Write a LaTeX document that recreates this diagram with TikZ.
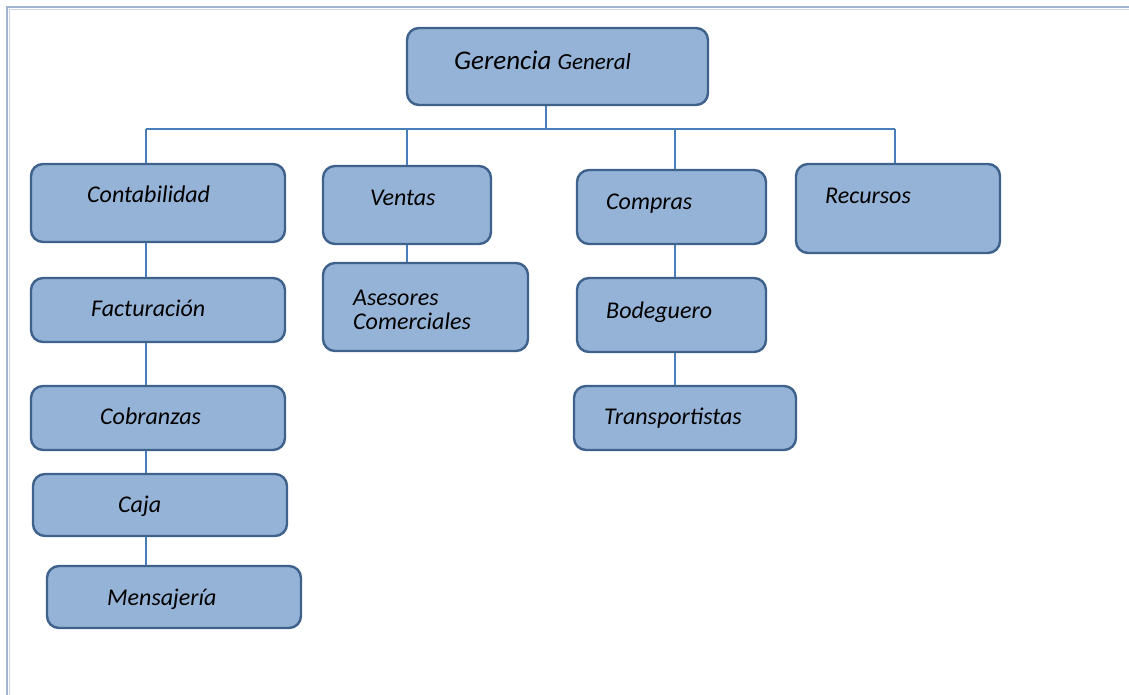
\documentclass[tikz,border=0pt]{standalone}
\usepackage{fontspec}
\setmainfont{Carlito}
\begin{document}
\definecolor{boxfill}{HTML}{95B3D7}
\definecolor{boxline}{HTML}{3F628D}
\definecolor{wire}{HTML}{4A7EBB}
\definecolor{frameA}{HTML}{A3B3CF}
\definecolor{frameB}{HTML}{CCD6EA}
\begin{tikzpicture}[x=1pt,y=-1pt,
  unit/.style={draw=boxline,fill=boxfill,line width=2.4pt,rounded corners=12pt,inner sep=0pt},
  lbl/.style={anchor=base west,inner sep=0pt,font=\fontsize{24}{28}\selectfont\itshape},
  wirestyle/.style={draw=wire,line width=1.6pt}]
\useasboundingbox (0,0) rectangle (1129,695);
% page frame
\draw[frameA,line width=1.6pt] (7,695) -- (7,7) -- (1129,7);
\draw[frameB,line width=1.2pt] (9.6,695) -- (9.6,9.6) -- (1129,9.6);

% boxes
\node[unit,minimum width=301pt,minimum height=77pt] (gg) at (557.5,66.5) {};
\node[unit,minimum width=254pt,minimum height=78pt] (conta) at (158,203) {};
\node[unit,minimum width=168pt,minimum height=78pt] (ventas) at (407,205) {};
\node[unit,minimum width=189pt,minimum height=74pt] (compras) at (671.5,207) {};
\node[unit,minimum width=204pt,minimum height=89pt] (recursos) at (898,208.5) {};
\node[unit,minimum width=254pt,minimum height=64pt] (factura) at (158,310) {};
\node[unit,minimum width=205pt,minimum height=88pt] (asesores) at (425.5,307) {};
\node[unit,minimum width=189pt,minimum height=74pt] (bodega) at (671.5,315) {};
\node[unit,minimum width=254pt,minimum height=64pt] (cobranza) at (158,418) {};
\node[unit,minimum width=222pt,minimum height=64pt] (transp) at (685,418) {};
\node[unit,minimum width=254pt,minimum height=62pt] (caja) at (160,505) {};
\node[unit,minimum width=254pt,minimum height=62pt] (mensaje) at (174,597) {};

% labels
\node[lbl,font=\itshape] (tgg) at (454,70) {\fontsize{27}{30}\selectfont Gerencia \fontsize{23}{26}\selectfont General};
\node[lbl] (tconta) at (87,203) {Contabilidad};
\node[lbl] (tventas) at (370,205) {Ventas};
\node[lbl] (tcompras) at (606,209) {Compras};
\node[lbl] (trecursos) at (825,204) {Recursos};
\node[lbl] (tfactura) at (91,316) {Facturación};
\node[lbl] (tasesores) at (353,305) {Asesores};
\node[lbl] (tcomerc) at (353,329) {Comerciales};
\node[lbl] (tbodega) at (606,318) {Bodeguero};
\node[lbl] (tcobranza) at (100,424) {Cobranzas};
\node[lbl] (ttransp) at (604,424) {Transportistas};
\node[lbl] (tcaja) at (118,512) {Caja};
\node[lbl] (tmensaje) at (107,605) {Mensajería};

% connectors
\coordinate (top) at (546,129);
\coordinate (busL) at (146,129);
\coordinate (busR) at (895,129);
\coordinate (dropV) at (407,129);
\coordinate (dropC) at (675,129);
\draw[wirestyle] (gg.south -| top) -- (top);
\draw[wirestyle] (busL) -- (busR);
\draw[wirestyle] (busL) -- (busL |- conta.north);
\draw[wirestyle] (dropV) -- (dropV |- ventas.north);
\draw[wirestyle] (dropC) -- (dropC |- compras.north);
\draw[wirestyle] (busR) -- (busR |- recursos.north);
\draw[wirestyle] (busL |- conta.south) -- (busL |- factura.north);
\draw[wirestyle] (busL |- factura.south) -- (busL |- cobranza.north);
\draw[wirestyle] (busL |- cobranza.south) -- (busL |- caja.north);
\draw[wirestyle] (busL |- caja.south) -- (busL |- mensaje.north);
\draw[wirestyle] (dropV |- ventas.south) -- (dropV |- asesores.north);
\draw[wirestyle] (dropC |- compras.south) -- (dropC |- bodega.north);
\draw[wirestyle] (dropC |- bodega.south) -- (dropC |- transp.north);
\end{tikzpicture}
\end{document}
